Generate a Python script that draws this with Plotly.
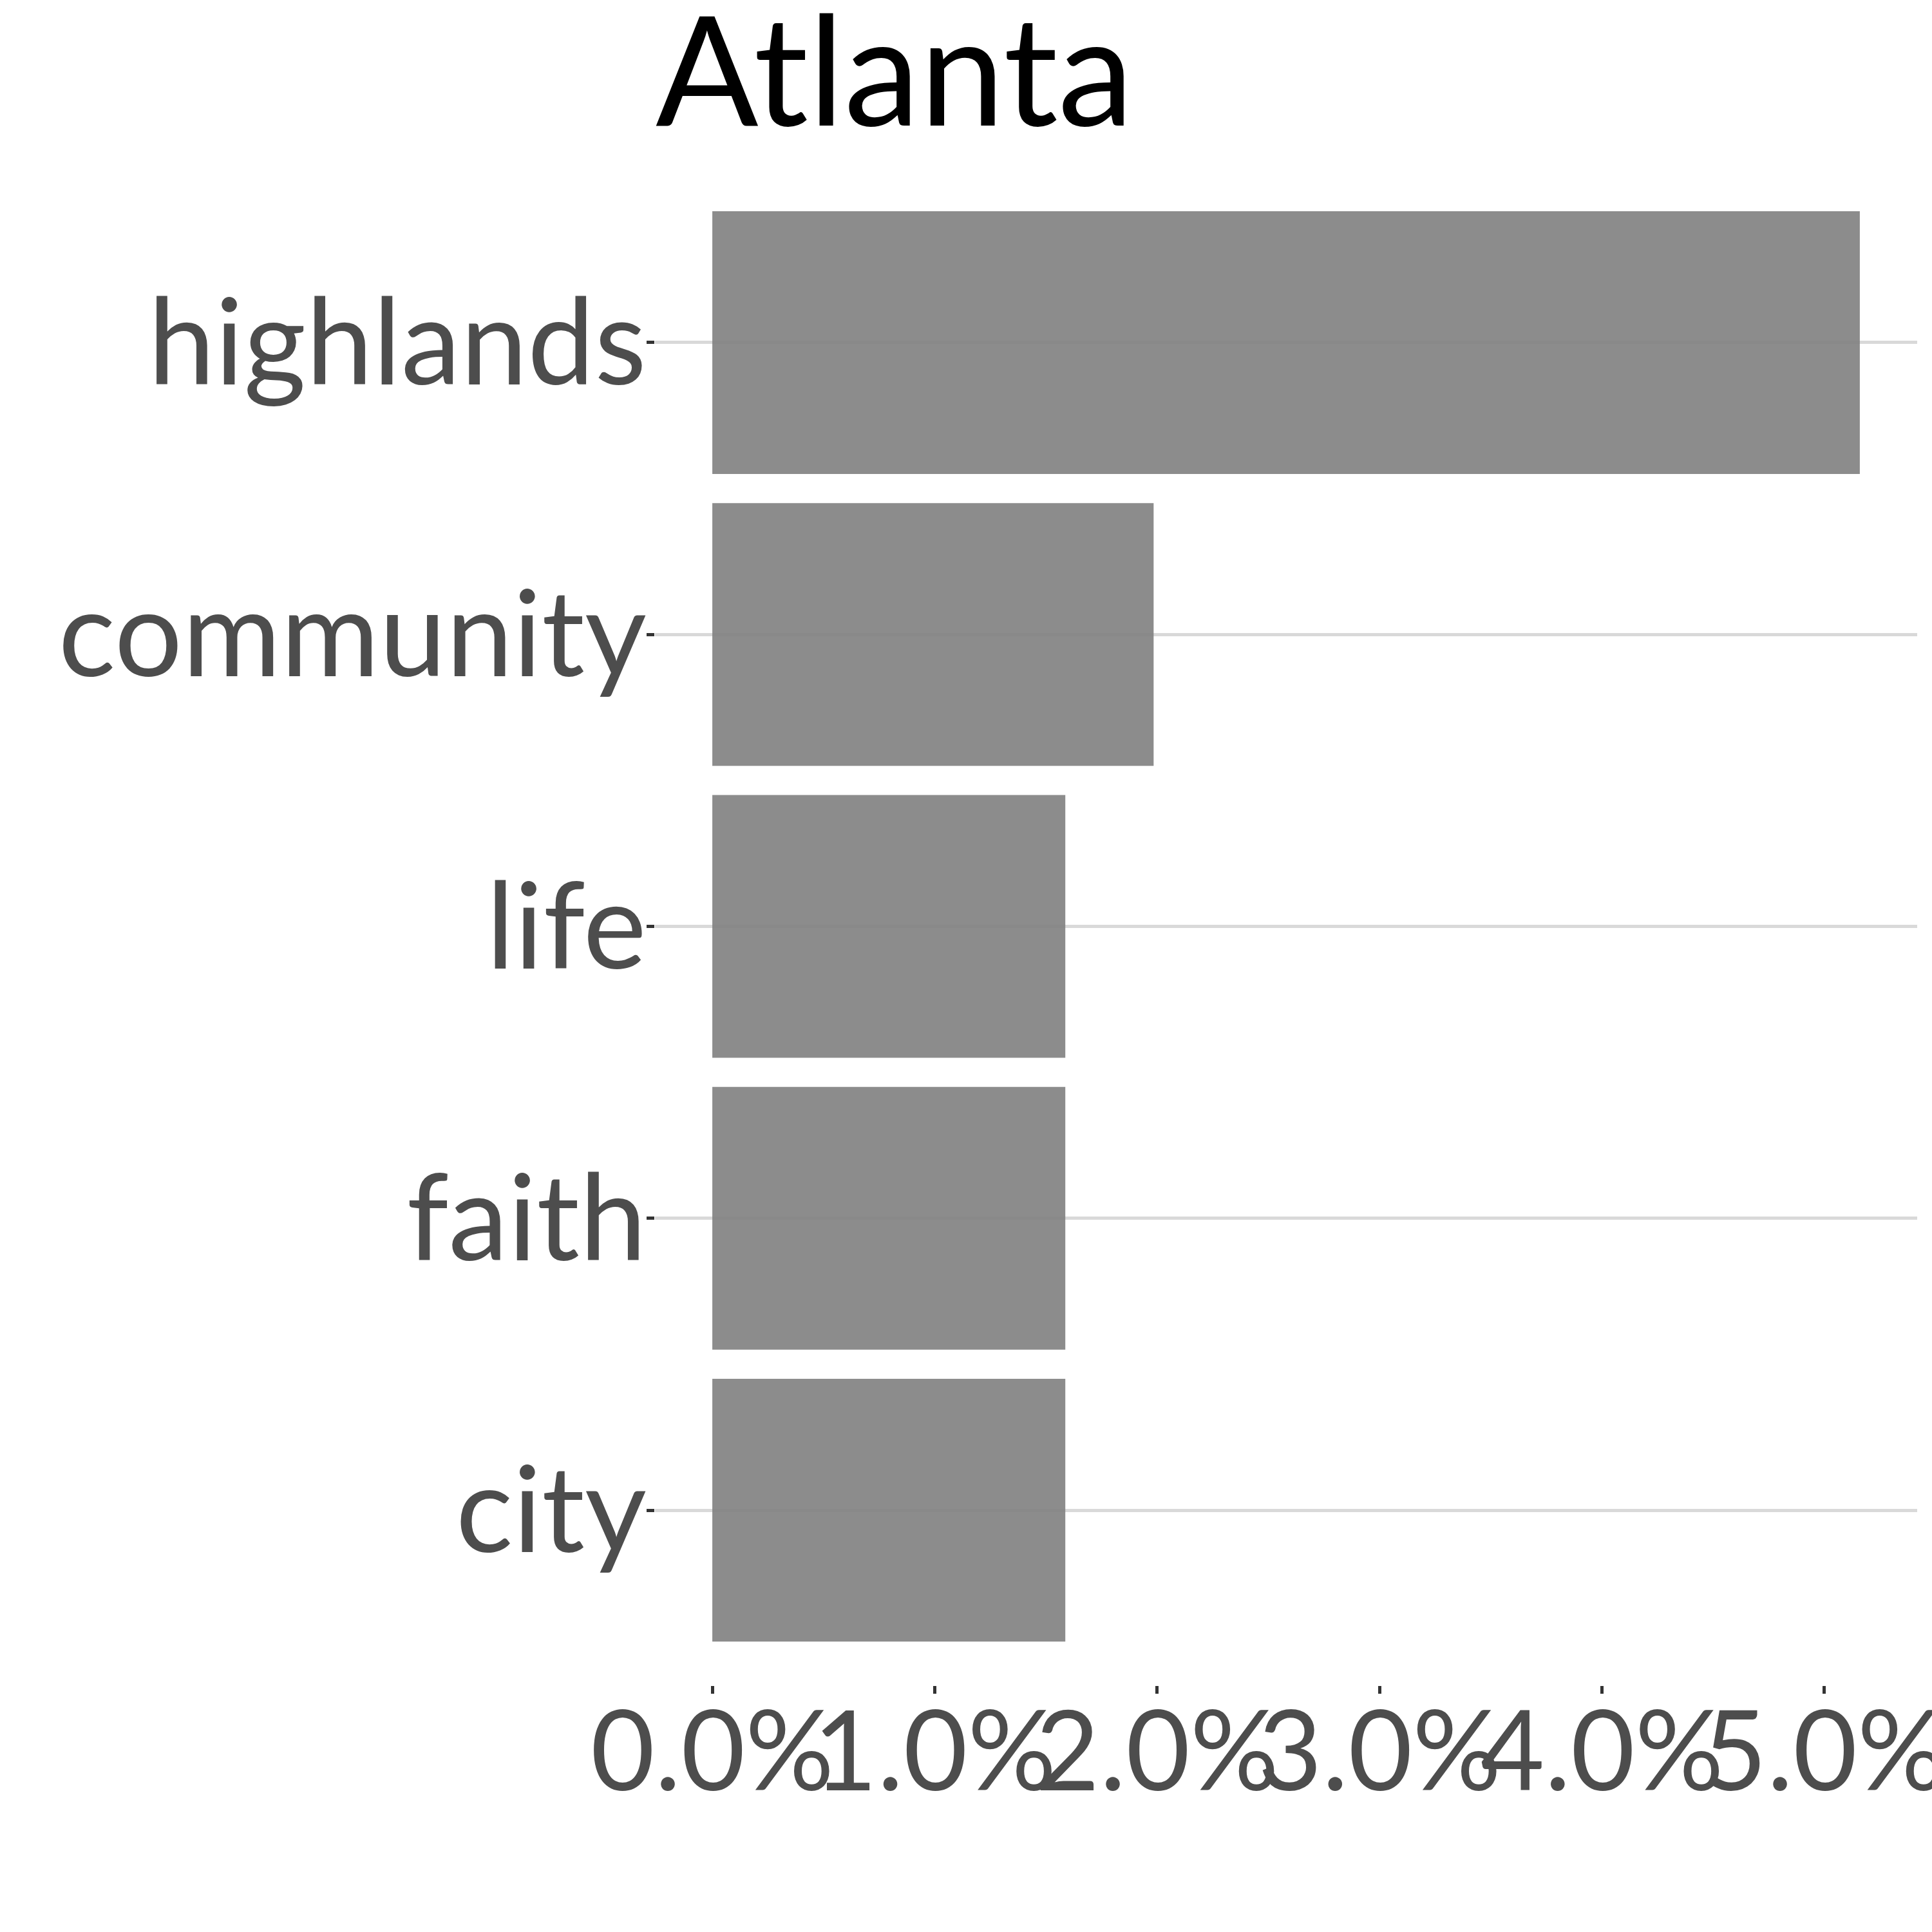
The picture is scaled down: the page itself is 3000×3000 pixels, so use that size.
import plotly.graph_objects as go

words = ["highlands", "community", "life", "faith", "city"]
shares = [5.159, 1.984, 1.587, 1.587, 1.587]  # percent
tick_vals = [0, 1, 2, 3, 4, 5]
tick_text = ["0.0%", "1.0%", "2.0%", "3.0%", "4.0%", "5.0%"]
title_text = "Atlanta"

FONT = "Lato"

fig = go.Figure(
    go.Bar(
        x=shares,
        y=words,
        orientation="h",
        width=0.9,
        marker=dict(color="rgba(127,127,127,0.9)", line=dict(width=0)),
    )
)

xmax = max(shares)
pad = 0.05 * xmax

fig.update_layout(
    width=3000,
    height=3000,
    margin=dict(l=1017, r=23, t=260, b=383, autoexpand=False),
    paper_bgcolor="white",
    plot_bgcolor="white",
    showlegend=False,
    title=dict(
        text=title_text,
        font=dict(family=FONT, size=236, color="black"),
        x=0.463,
        xref="container",
        xanchor="center",
        y=0.990,
        yref="container",
        yanchor="top",
    ),
    bargap=0.1,
)

fig.update_xaxes(
    range=[-pad, xmax + pad],
    tickmode="array",
    tickvals=tick_vals,
    ticktext=tick_text,
    tickangle=0,
    ticks="outside",
    ticklen=12,
    tickwidth=4.5,
    tickcolor="#333333",
    ticklabeloverflow="allow",
    ticklabelstandoff=-56,
    automargin=False,
    tickfont=dict(family=FONT, size=172, color="#4D4D4D"),
    showgrid=False,
    zeroline=False,
    showline=False,
)

fig.update_yaxes(
    categoryorder="array",
    categoryarray=words,
    range=[len(words) - 1 + 0.6, -0.6],
    ticks="outside",
    ticklen=12,
    tickwidth=4.5,
    tickcolor="#333333",
    ticklabelstandoff=-37,
    ticklabeloverflow="allow",
    automargin=False,
    tickfont=dict(family=FONT, size=186, color="#4D4D4D"),
    showgrid=True,
    gridcolor="#D9D9D9",
    gridwidth=4.5,
    zeroline=False,
    showline=False,
)

fig.write_html("out.html")
